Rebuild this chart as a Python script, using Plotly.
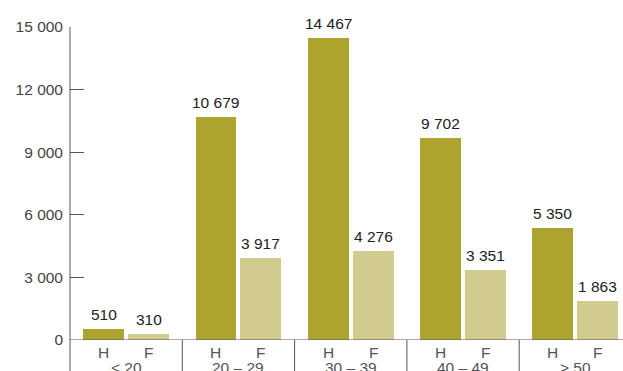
import plotly.graph_objects as go

groups = ["< 20", "20 – 29", "30 – 39", "40 – 49", "> 50"]
hommes = [510, 10679, 14467, 9702, 5350]
femmes = [310, 3917, 4276, 3351, 1863]
y_ticks = [0, 3000, 6000, 9000, 12000, 15000]

COL_H = "#ACA42E"
COL_F = "#D1CB8E"
LINE = "#555555"
FONT = "Liberation Sans, Arial, sans-serif"
FS = 15.5

W, H = 623, 371
ML, MT, MB = 70, 27, 31
X_MAX = (W - ML) / 112.3  # each age group spans one x unit

idx = list(range(len(groups)))
x_h = [i + 0.3 for i in idx]
x_f = [i + 0.7 for i in idx]

fig = go.Figure()
fig.add_trace(go.Bar(x=x_h, y=hommes, width=0.365, marker=dict(color=COL_H, line_width=0), name="H"))
fig.add_trace(go.Bar(x=x_f, y=femmes, width=0.365, marker=dict(color=COL_F, line_width=0), name="F"))

ph = H - MT - MB
def py(pix):
    # pixel offset below the zero line -> paper coordinate
    return -pix / ph

def fmt(v):
    return f"{v:,d}".replace(",", " ")

shapes = []
# vertical axis, running below the baseline
shapes.append(dict(type="line", xref="paper", yref="paper", x0=0, x1=0, y0=1, y1=py(40),
                   line=dict(color=LINE, width=1)))
# baseline
shapes.append(dict(type="line", xref="paper", yref="y", x0=0, x1=1, y0=0, y1=0,
                   line=dict(color=LINE, width=1)))
# group separators
for i in idx[1:]:
    xp = i / X_MAX
    shapes.append(dict(type="line", xref="paper", yref="paper", x0=xp, x1=xp, y0=0, y1=py(40),
                       line=dict(color=LINE, width=1)))

annotations = []
# value labels above bars
for xs, ys in ((x_h, hommes), (x_f, femmes)):
    for xv, yv in zip(xs, ys):
        annotations.append(dict(x=xv, xref="x", y=yv, yref="y", text=fmt(yv), showarrow=False,
                                yanchor="bottom", yshift=4,
                                font=dict(size=FS, color="#222", family=FONT)))
for i in idx:
    for xv, t in ((x_h[i], "H"), (x_f[i], "F")):
        annotations.append(dict(x=xv, xref="x", y=py(12), yref="paper", text=t, showarrow=False,
                                yanchor="middle", font=dict(size=FS, color="#555", family=FONT)))
    annotations.append(dict(x=i + 0.5, xref="x", y=py(17), yref="paper", text=groups[i],
                            showarrow=False, yanchor="top",
                            font=dict(size=FS, color="#555", family=FONT)))

fig.update_layout(
    width=W, height=H,
    margin=dict(l=ML, r=0, t=MT, b=MB, pad=0),
    plot_bgcolor="white", paper_bgcolor="white",
    showlegend=False, bargap=0,
    separators=". ",
    shapes=shapes, annotations=annotations,
    xaxis=dict(range=[0, X_MAX], showticklabels=False, ticks="", showgrid=False,
               zeroline=False, showline=False, fixedrange=True),
    yaxis=dict(range=[0, 15000], tickvals=y_ticks, tickformat=",d", ticks="inside",
               ticklen=14, tickcolor=LINE, tickwidth=1, showgrid=False, zeroline=False,
               showline=False, ticklabelstandoff=6,
               tickfont=dict(size=FS, color="#444", family=FONT)),
)

fig.write_html("out.html")
